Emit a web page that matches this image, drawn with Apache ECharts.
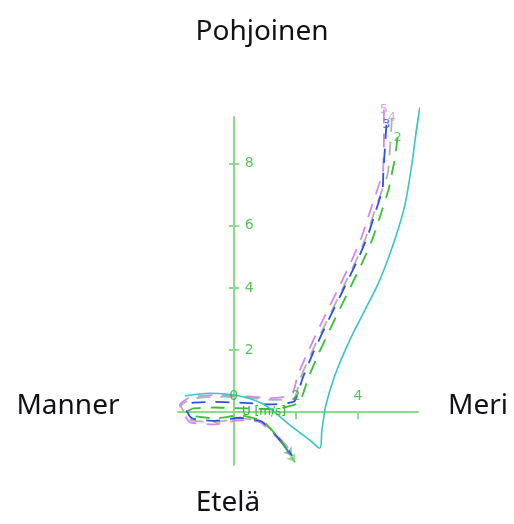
<!DOCTYPE html>
<html>
<head>
<meta charset="utf-8">
<script src="https://cdn.jsdelivr.net/npm/echarts@6/dist/echarts.min.js"></script>
<style>
  html, body { margin: 0; padding: 0; background: #fff; }
  #chart { width: 514px; height: 524px; }
</style>
</head>
<body>
<div id="chart"></div>
<script>
// tick labels
const xTicks = [0, 2, 4];
const yTicks = [2, 4, 6, 8];

// hodograph traces (x = toward sea, y = north), start labels
const traceLabels = ['5', '4', '3', '2'];

const violetX = [4.84, 4.84, 4.81, 4.65, 4.39, 4.13, 3.81, 3.35, 2.84, 2.39, 2.06, 1.87, 1.16, 0.35, -0.61, -1.42, -1.74, -1.42, -0.61, 0.19, 0.84, 1.32, 1.81];
const violetY = [9.74, 8.77, 7.74, 7.23, 6.45, 5.65, 4.90, 3.94, 2.90, 1.94, 1.19, 0.55, 0.45, 0.52, 0.55, 0.48, 0.23, -0.32, -0.39, -0.26, -0.32, -0.74, -1.29];

const grayX = [5.10, 5.05, 4.97, 4.80, 4.52, 4.25, 3.93, 3.47, 2.96, 2.50, 2.15, 1.95, 1.20, 0.35, -0.60, -1.40, -1.70, -1.40, -0.60, 0.20, 0.85, 1.35, 1.85];
const grayY = [9.48, 8.70, 7.70, 7.20, 6.40, 5.60, 4.85, 3.90, 2.85, 1.90, 1.10, 0.45, 0.40, 0.48, 0.50, 0.42, 0.20, -0.25, -0.32, -0.20, -0.28, -0.70, -1.25];

const blueX = [4.92, 4.88, 4.82, 4.80, 4.57, 4.31, 3.99, 3.53, 3.02, 2.57, 2.22, 1.95, 1.20, 0.30, -0.60, -1.35, -1.55, -1.35, -0.60, 0.20, 0.90, 1.45, 1.88];
const blueY = [9.25, 8.60, 7.70, 7.20, 6.45, 5.65, 4.90, 3.94, 2.90, 1.94, 1.10, 0.35, 0.25, 0.30, 0.33, 0.30, 0.12, -0.20, -0.28, -0.18, -0.30, -0.85, -1.40];

const greenX = [5.28, 5.20, 5.08, 5.00, 4.75, 4.48, 4.16, 3.70, 3.19, 2.74, 2.40, 2.10, 1.30, 0.40, -0.60, -1.30, -1.50, -1.30, -0.60, 0.20, 0.95, 1.50, 1.97];
const greenY = [8.85, 8.20, 7.60, 7.20, 6.40, 5.60, 4.85, 3.90, 2.85, 1.90, 1.10, 0.30, 0.10, 0.12, 0.15, 0.12, 0.02, -0.12, -0.20, -0.10, -0.30, -0.90, -1.61];

const cyanX = [-1.58, -0.77, 0.19, 1.00, 1.81, 2.45, 2.77, 2.84, 2.97, 3.26, 3.74, 4.23, 4.71, 5.19, 5.52, 5.74, 5.87, 6.00];
const cyanY = [0.52, 0.61, 0.52, 0.23, -0.42, -0.90, -1.16, -0.58, 0.23, 1.19, 2.32, 3.29, 4.26, 5.55, 6.68, 7.97, 8.94, 9.81];

const zip = (xs, ys) => xs.map((x, i) => [x, ys[i]]);

const green = '#2fb42f';
const axisGreen = '#8adc8a';

const traces = [
    { x: violetX, y: violetY, color: '#d787f0', arrow: false },
    { x: grayX, y: grayY, color: '#b0b0b0', arrow: false },
    { x: blueX, y: blueY, color: '#2f4fea', arrow: true },
    { x: greenX, y: greenY, color: '#38c038', arrow: true }
];

const series = [];
traces.forEach((t, k) => {
    series.push({
        type: 'line',
        data: zip(t.x, t.y),
        smooth: 0.15,
        symbol: 'none',
        clip: false,
        lineStyle: { color: t.color, width: 1.8, type: [14, 10] },
        z: 3
    });
    // start label
    series.push({
        type: 'scatter',
        data: [[t.x[0], t.y[0]]],
        symbolSize: 0,
        clip: false,
        label: {
            show: true,
            formatter: traceLabels[k],
            position: 'inside',
            color: t.color,
            fontSize: 13,
            fontFamily: 'DejaVu Sans'
        },
        z: 4
    });
    if (t.arrow) {
        const n = t.x.length;
        series.push({
            type: 'lines',
            coordinateSystem: 'cartesian2d',
            data: [{ coords: [[t.x[n - 2], t.y[n - 2]], [t.x[n - 1], t.y[n - 1]]] }],
            symbol: ['none', 'arrow'],
            symbolSize: 8,
            lineStyle: { color: t.color, width: 1.8 },
            z: 4
        });
    }
});

// cyan solid trace with arrow at top
const nc = cyanX.length;
series.push({
    type: 'line',
    data: zip(cyanX, cyanY),
    smooth: 0.3,
    symbol: 'none',
    clip: false,
    lineStyle: { color: '#36c6c6', width: 1.6 },
    z: 3
});
series.push({
    type: 'lines',
    coordinateSystem: 'cartesian2d',
    data: [{ coords: [[cyanX[nc - 2], cyanY[nc - 2]], [cyanX[nc - 1], cyanY[nc - 1]]] }],
    symbol: ['none', 'arrow'],
    symbolSize: 9,
    lineStyle: { color: '#36c6c6', width: 1.6 },
    z: 4
});

// tick labels placed on the crossing axes
const tickLabel = {
    show: true,
    formatter: p => String(p.data.t),
    color: green,
    fontSize: 14,
    fontFamily: 'DejaVu Sans'
};
series.push({
    type: 'scatter',
    data: xTicks.map(v => ({ value: [v, 0], t: v })),
    symbolSize: 0,
    label: Object.assign({ position: 'top', distance: 9 }, tickLabel),
    z: 5
});
series.push({
    type: 'scatter',
    data: yTicks.map(v => ({ value: [0, v], t: v })),
    symbolSize: 0,
    label: Object.assign({ position: 'right', distance: 11 }, tickLabel),
    z: 5
});

const chart = echarts.init(document.getElementById('chart'));

const bigText = {
    fontSize: 28,
    fontFamily: 'Noto Sans',
    fill: '#111118',
    align: 'center',
    verticalAlign: 'middle'
};

chart.setOption({
    animation: false,
    grid: { left: 178, top: 117, width: 240, height: 348 },
    xAxis: [{
        type: 'value',
        min: -1.8,
        max: 5.94,
        axisLine: { onZero: true, lineStyle: { color: axisGreen, width: 2 } },
        axisTick: { customValues: [2, 4], length: 7, lineStyle: { color: axisGreen, width: 2 } },
        axisLabel: { show: false },
        splitLine: { show: false }
    }],
    yAxis: [{
        type: 'value',
        min: -1.7,
        max: 9.5,
        axisLine: { show: true, onZero: true, lineStyle: { color: axisGreen, width: 2 } },
        axisTick: { show: true, customValues: yTicks, inside: true, length: 5, lineStyle: { color: axisGreen, width: 2 } },
        axisLabel: { show: false },
        splitLine: { show: false }
    }, {
        type: 'value',
        min: -1.7,
        max: 9.5,
        position: 'left',
        offset: -56,
        axisLine: { show: false, onZero: false },
        axisTick: { show: true, customValues: yTicks, length: 5, lineStyle: { color: axisGreen, width: 2 } },
        axisLabel: { show: false },
        splitLine: { show: false }
    }],
    graphic: [
        { type: 'text', x: 262, y: 32, style: Object.assign({ text: 'Pohjoinen' }, bigText) },
        { type: 'text', x: 228, y: 503, style: Object.assign({ text: 'Etelä' }, bigText) },
        { type: 'text', x: 68, y: 406, style: Object.assign({ text: 'Manner' }, bigText) },
        { type: 'text', x: 478, y: 406, style: Object.assign({ text: 'Meri' }, bigText) },
        {
            type: 'text', x: 242, y: 412, z: 10,
            style: { text: 'U [m/s]', fontSize: 12, fontFamily: 'DejaVu Sans', fill: green, verticalAlign: 'middle' }
        }
    ],
    series: series
});
</script>
</body>
</html>
